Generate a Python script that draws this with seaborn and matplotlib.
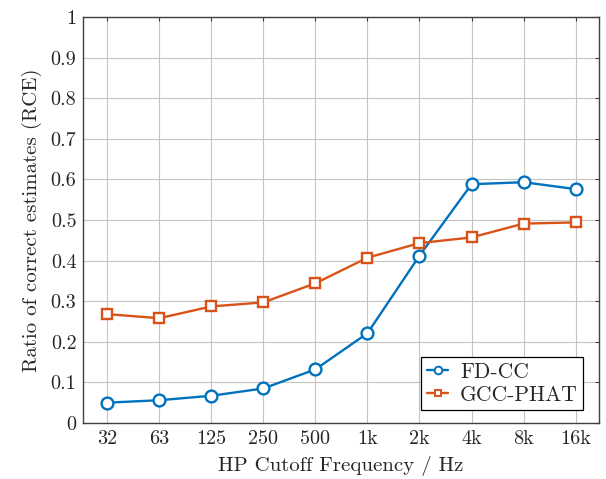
import numpy as np
import pandas as pd
import matplotlib
matplotlib.use("Agg")
import matplotlib.pyplot as plt
import seaborn as sns

freqs = ["32", "63", "125", "250", "500", "1k", "2k", "4k", "8k", "16k"]
fdcc = [0.050, 0.056, 0.067, 0.085, 0.132, 0.221, 0.412, 0.588, 0.593, 0.576]
gcc_phat = [0.268, 0.258, 0.287, 0.297, 0.344, 0.407, 0.443, 0.457, 0.491, 0.494]
yticks = [0, 0.1, 0.2, 0.3, 0.4, 0.5, 0.6, 0.7, 0.8, 0.9, 1]
ytick_labels = ["0", "0.1", "0.2", "0.3", "0.4", "0.5", "0.6", "0.7", "0.8", "0.9", "1"]

df = pd.DataFrame({
    "pos": list(range(len(freqs))) * 2,
    "rce": fdcc + gcc_phat,
    "method": ["FD-CC"] * len(freqs) + ["GCC-PHAT"] * len(freqs),
})

sns.set_style("whitegrid")
plt.rcParams["font.family"] = ["serif"]
plt.rcParams["font.serif"] = ["cmr10", "DejaVu Serif"]
plt.rcParams["mathtext.fontset"] = "cm"
plt.rcParams["axes.unicode_minus"] = False

fig = plt.figure(figsize=(6.06, 4.79), dpi=100)
ax = fig.add_axes([0.1375, 0.117, 0.851, 0.8476])

palette = {"FD-CC": "#0072BD", "GCC-PHAT": "#D95319"}
sns.lineplot(data=df, x="pos", y="rce", hue="method", style="method",
             markers={"FD-CC": "o", "GCC-PHAT": "s"}, dashes=False,
             palette=palette, linewidth=1.7, ax=ax)

# 空心标记
for line in ax.lines:
    line.set_markerfacecolor("white")
    line.set_markeredgewidth(1.7)
    line.set_markeredgecolor(line.get_color())
    line.set_markersize(8.5 if line.get_marker() == "o" else 6.5)

ax.set_xticks(range(len(freqs)))
ax.set_xticklabels(freqs)
ax.set_yticks(yticks)
ax.set_yticklabels(ytick_labels)
ax.set_xlim(-0.46, 9.45)
ax.set_ylim(0, 1)

ax.grid(True, color="#c4c4c4", linewidth=0.8)
for s in ax.spines.values():
    s.set_color("#404040")
    s.set_linewidth(1.0)
ax.tick_params(direction="in", length=3, labelsize=14.5, top=True, right=True,
               color="#404040", pad=5)

ax.set_xlabel("HP Cutoff Frequency / Hz", fontsize=15, labelpad=6)
ax.set_ylabel("Ratio of correct estimates (RCE)", fontsize=15, labelpad=6)

leg = ax.legend(loc="lower right", bbox_to_anchor=(0.9696, 0.032), borderaxespad=0,
                fontsize=15.5, frameon=True, fancybox=False,
                edgecolor="black", framealpha=1,
                handlelength=1.0, borderpad=0.25, labelspacing=0.15, handletextpad=0.55)
leg.get_frame().set_linewidth(0.9)
for h in leg.get_lines():
    h.set_markerfacecolor("white")
    h.set_markersize(5.5 if h.get_marker() == "o" else 4.5)
    h.set_markeredgewidth(1.4)

fig.savefig("out.png", dpi=100)
